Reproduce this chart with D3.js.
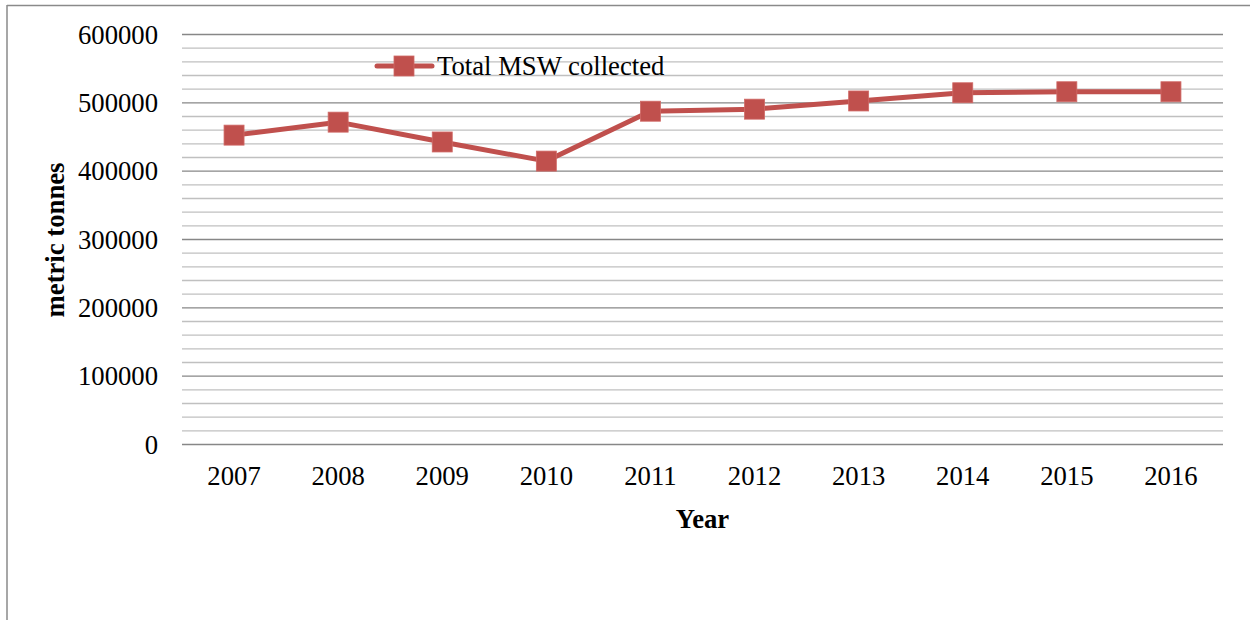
<!DOCTYPE html>
<html>
<head>
<meta charset="utf-8">
<script src="https://cdn.jsdelivr.net/npm/d3@7"></script>
<style>
  html, body { margin: 0; padding: 0; background: #fff; }
  svg { display: block; }
  text { font-family: "Liberation Serif", "Times New Roman", serif; fill: #000; }
</style>
</head>
<body>
<svg id="chart" width="1250" height="620"></svg>
<script>
const years = ["2007","2008","2009","2010","2011","2012","2013","2014","2015","2016"];
const mswCollected = [452000, 471000, 442000, 414000, 487000, 490000, 502000, 514000, 515500, 515500];
const majorTicks = [0, 100000, 200000, 300000, 400000, 500000, 600000];
const minorTicks = d3.range(0, 600001, 20000);
const seriesName = "Total MSW collected";
const yTitle = "metric tonnes";
const xTitle = "Year";

(function () {
const svg = d3.select("#chart");
const pLeft = 182, pRight = 1223, pTop = 34, pBottom = 444;
const color = "#c0504d";
const fs = 26.7;
const ff = "'Liberation Serif', 'Times New Roman', serif";

// outer frame (top and left edges visible)
svg.append("line").attr("x1", 7).attr("x2", 1250).attr("y1", 5.5).attr("y2", 5.5)
  .attr("stroke", "#8a8a8a").attr("stroke-width", 1.5);
svg.append("line").attr("x1", 7).attr("x2", 7).attr("y1", 5).attr("y2", 620)
  .attr("stroke", "#8a8a8a").attr("stroke-width", 1.5);

const x = d3.scaleBand().domain(years).range([pLeft, pRight]);
const y = d3.scaleLinear().domain([0, 600000]).range([pBottom, pTop]);

// minor gridlines
const minorG = svg.append("g").attr("transform", `translate(${pLeft},0)`)
  .call(d3.axisLeft(y).tickValues(minorTicks.filter(v => !majorTicks.includes(v)))
    .tickSize(-(pRight - pLeft)).tickFormat(""));
minorG.select(".domain").remove();
minorG.selectAll(".tick line").attr("stroke", "#c0c0c0").attr("stroke-width", 1.3);

// major gridlines + labels
const majorG = svg.append("g").attr("transform", `translate(${pLeft},0)`)
  .call(d3.axisLeft(y).tickValues(majorTicks).tickSize(-(pRight - pLeft)).tickPadding(24)
    .tickFormat(d3.format("d")));
majorG.select(".domain").remove();
majorG.selectAll(".tick line").attr("stroke", "#878787").attr("stroke-width", 1.4);
majorG.selectAll(".tick text").attr("font-size", fs).attr("fill", "#000")
  .attr("font-family", ff).attr("dy", "0.34em");

// x axis labels
const xG = svg.append("g").attr("transform", `translate(0,${pBottom})`)
  .call(d3.axisBottom(x).tickSize(0).tickPadding(22));
xG.select(".domain").remove();
xG.selectAll(".tick text").attr("font-size", fs).attr("fill", "#000").attr("font-family", ff);

// axis titles
svg.append("text").attr("transform", `translate(64,240) rotate(-90)`)
  .attr("text-anchor", "middle").attr("font-size", fs).attr("font-weight", "bold").text(yTitle);
svg.append("text").attr("x", (pLeft + pRight) / 2).attr("y", 528)
  .attr("text-anchor", "middle").attr("font-size", fs).attr("font-weight", "bold").text(xTitle);

// line
const pts = years.map((yr, i) => ({ yr, v: mswCollected[i] }));
const line = d3.line().x(d => x(d.yr) + x.bandwidth() / 2).y(d => y(d.v));
svg.append("path").datum(pts).attr("d", line).attr("fill", "none")
  .attr("stroke", color).attr("stroke-width", 5).attr("stroke-linejoin", "round");

const ms = 20;
svg.selectAll("rect.marker").data(pts).join("rect").attr("class", "marker")
  .attr("x", d => x(d.yr) + x.bandwidth() / 2 - ms / 2)
  .attr("y", d => y(d.v) - ms / 2)
  .attr("width", ms).attr("height", ms)
  .attr("fill", color).attr("stroke", "#d06a67").attr("stroke-width", 0.8);

// legend
const lg = svg.append("g").attr("transform", "translate(377,66)");
lg.append("line").attr("x1", 0).attr("x2", 55).attr("y1", 0).attr("y2", 0)
  .attr("stroke", color).attr("stroke-width", 5).attr("stroke-linecap", "round");
lg.append("rect").attr("x", 27 - ms / 2).attr("y", -ms / 2).attr("width", ms).attr("height", ms)
  .attr("fill", color).attr("stroke", "#d06a67").attr("stroke-width", 0.8);
lg.append("text").attr("x", 60).attr("y", 8.5).attr("font-size", fs).text(seriesName);
})();
</script>
</body>
</html>
